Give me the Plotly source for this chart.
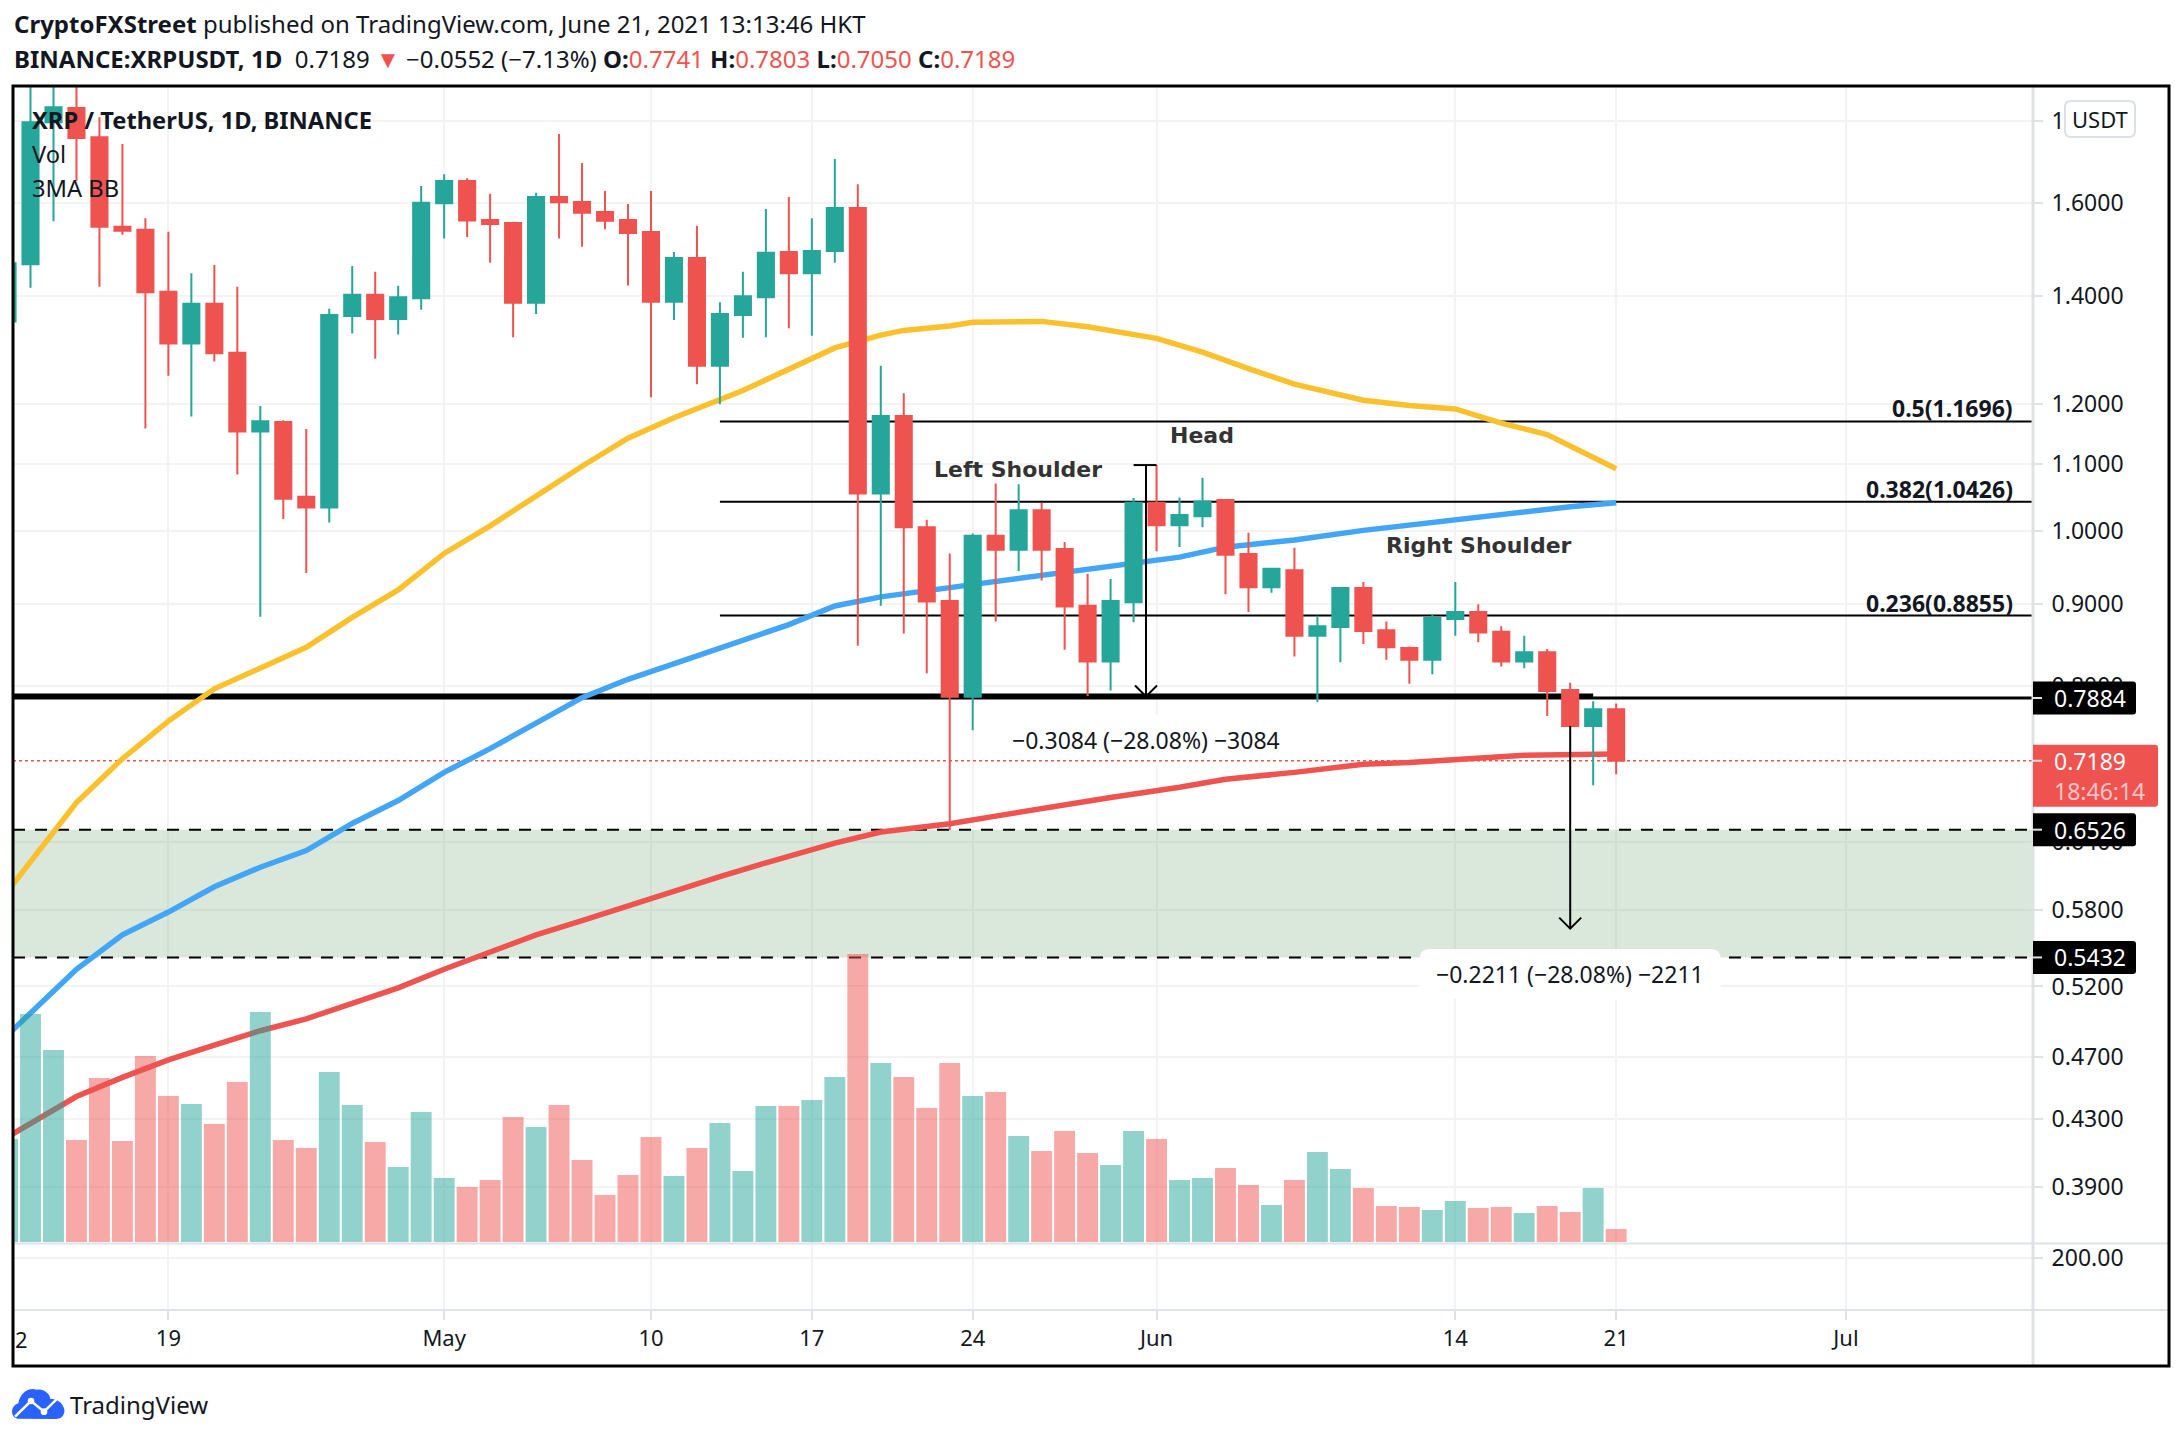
"""
plot.py - XRP/USDT daily chart with head & shoulders drawing.
Output: out.html
"""
import math

import pandas as pd
import plotly.graph_objects as go

FONT = "Noto Sans"
RED = "#ef5350"
TEAL = "#26a69a"
INK = "#131722"
GRID = "#f3f3f3"
EDGE = "#e0e3e5"

# page layout, in pixels
W, H = 2182, 1440
LEFT, RIGHT, TOP, AXIS_Y, PANE_Y, BOTTOM, FRAME_R = 13, 2033, 86, 1310, 1243.5, 1366, 2169

dates = pd.date_range("2021-04-12", "2021-06-21")
opens = [1.350, 1.466, 1.797, 1.834, 1.759, 1.547, 1.540, 1.409, 1.308, 1.385, 1.291, 1.153, 1.169, 1.050, 1.034,
         1.361, 1.403, 1.355, 1.396,
         1.600, 1.652, 1.562, 1.555, 1.387, 1.614, 1.603, 1.580, 1.562, 1.535, 1.389, 1.479, 1.267, 1.363, 1.398,
         1.492, 1.447, 1.494, 1.589, 1.055, 1.179, 1.005, 0.904, 0.788, 0.993, 0.973, 1.030, 0.974, 0.898, 0.829, 0.9026,
         1.041, 1.008, 1.021, 1.045, 0.967, 0.922, 0.945, 0.860, 0.871, 0.921, 0.867, 0.845, 0.831, 0.881, 0.890,
         0.865, 0.829, 0.840, 0.7957, 0.7556, 0.7741]
highs = [1.490, 1.960, 1.960, 1.960, 1.810, 1.742, 1.566, 1.536, 1.447, 1.464, 1.419, 1.196, 1.172, 1.157, 1.375,
         1.462, 1.450, 1.421, 1.640,
         1.668, 1.658, 1.622, 1.558, 1.624, 1.767, 1.695, 1.628, 1.598, 1.628, 1.492, 1.549, 1.388, 1.450, 1.587,
         1.614, 1.566, 1.705, 1.644, 1.267, 1.218, 1.016, 0.968, 0.996, 1.070, 1.069, 1.041, 0.984, 0.940, 0.933, 1.048,
         1.0988, 1.049, 1.079, 1.046, 0.997, 0.948, 0.976, 0.885, 0.922, 0.929, 0.878, 0.847, 0.887, 0.929, 0.900,
         0.872, 0.860, 0.844, 0.804, 0.783, 0.7803]
lows = [1.330, 1.417, 1.559, 1.652, 1.419, 1.529, 1.158, 1.249, 1.178, 1.275, 1.084, 0.884, 1.017, 0.941, 1.012,
        1.327, 1.280, 1.325, 1.373,
        1.521, 1.524, 1.469, 1.320, 1.365, 1.521, 1.503, 1.541, 1.422, 1.211, 1.353, 1.234, 1.199, 1.319, 1.320,
        1.337, 1.323, 1.469, 0.848, 0.898, 0.863, 0.815, 0.651, 0.751, 0.878, 0.944, 0.931, 0.843, 0.789, 0.795, 0.877,
        0.971, 0.977, 1.005, 0.913, 0.890, 0.915, 0.835, 0.782, 0.828, 0.850, 0.831, 0.803, 0.814, 0.860, 0.852,
        0.823, 0.821, 0.7665, 0.7556, 0.694, 0.7050]
closes = [1.468, 1.797, 1.836, 1.757, 1.547, 1.538, 1.408, 1.308, 1.385, 1.290, 1.153, 1.170, 1.047, 1.034, 1.363,
          1.403, 1.355, 1.398, 1.601,
          1.652, 1.561, 1.553, 1.387, 1.614, 1.602, 1.578, 1.560, 1.533, 1.389, 1.479, 1.267, 1.365, 1.400, 1.490,
          1.447, 1.494, 1.589, 1.055, 1.179, 1.005, 0.9036, 0.788, 0.993, 0.973, 1.030, 0.973, 0.897, 0.829, 0.904, 1.041,
          1.008, 1.023, 1.043, 0.966, 0.922, 0.947, 0.860, 0.872, 0.921, 0.866, 0.846, 0.831, 0.8825, 0.890, 0.864,
          0.829, 0.840, 0.7945, 0.7556, 0.7741, 0.7189]
# read as relative bar heights, the volume scale itself is not labelled
volume = [103, 228, 192, 102, 164, 101, 186, 146, 138, 118, 160, 230, 102, 94, 170, 137, 100, 75, 130,
          64, 55, 62, 125, 115, 137, 82, 47, 67, 105, 66, 94, 119, 71, 136, 136, 142, 165, 288, 179, 165,
          134, 179, 146, 150, 106, 91, 111, 89, 77, 111, 103,
          62, 64, 74, 57, 37, 62, 90, 73, 54, 36, 35, 32, 41, 34, 35, 29, 36, 30, 54, 13]

slow_dates = ["04-12", "04-15", "04-17", "04-19", "04-21", "04-23", "04-25", "04-27", "04-29", "05-01", "05-03",
              "05-05", "05-07", "05-09", "05-11", "05-14", "05-16", "05-18", "05-20", "05-21", "05-23", "05-24",
              "05-27", "05-29", "06-01", "06-03", "06-05", "06-07", "06-10", "06-12", "06-14", "06-16", "06-18", "06-21"]
ma_yellow = [0.596, 0.677, 0.721, 0.761, 0.797, 0.821, 0.846, 0.883, 0.9185, 0.968, 1.007,
             1.051, 1.097, 1.142, 1.176, 1.223, 1.26, 1.30, 1.324, 1.333, 1.3415, 1.3486,
             1.3504, 1.34, 1.318, 1.292, 1.262, 1.234, 1.206, 1.197, 1.191, 1.167, 1.148, 1.093]
blue_dates = ["04-12", "04-15", "04-17", "04-19", "04-21", "04-23", "04-25", "04-27", "04-29", "05-01", "05-03",
              "05-05", "05-07", "05-09", "05-11", "05-13", "05-16", "05-18", "05-20", "05-23", "05-26", "05-28",
              "05-30", "06-02", "06-04", "06-07", "06-10", "06-12", "06-15", "06-17", "06-19", "06-21"]
ma_blue = [0.485, 0.533, 0.56, 0.5786, 0.600, 0.617, 0.632, 0.657, 0.679, 0.707, 0.7315,
           0.758, 0.787, 0.808, 0.8266, 0.846, 0.874, 0.8976, 0.9095, 0.9216, 0.9338, 0.941,
           0.9505, 0.9628, 0.9767, 0.9868, 1.0005, 1.008, 1.021, 1.029, 1.035, 1.041]
red_dates = ["04-12", "04-15", "04-17", "04-19", "04-21", "04-23", "04-25", "04-27", "04-29", "05-01", "05-03",
             "05-05", "05-07", "05-09", "05-11", "05-13", "05-15", "05-17", "05-18", "05-20", "05-23", "05-25",
             "05-28", "05-30", "06-02", "06-04", "06-07", "06-10", "06-12", "06-15", "06-17", "06-21"]
ma_red = [0.419, 0.444, 0.4564, 0.468, 0.478, 0.488, 0.4964, 0.5076, 0.519, 0.533, 0.5466,
          0.56, 0.5715, 0.584, 0.5967, 0.6088, 0.621, 0.6336, 0.6387, 0.649, 0.6567, 0.664,
          0.675, 0.682, 0.692, 0.700, 0.707, 0.7153, 0.717, 0.7216, 0.7246, 0.726]

x_tick_dates = ["2021-04-19", "2021-05-01", "2021-05-10", "2021-05-17", "2021-05-24", "2021-06-01", "2021-06-14",
                "2021-06-21", "2021-07-01"]
x_tick_labels = ["19", "May", "10", "17", "24", "Jun", "14", "21", "Jul"]
price_ticks = [1.8, 1.6, 1.4, 1.2, 1.1, 1.0, 0.9, 0.8, 0.64, 0.58, 0.52, 0.47, 0.43, 0.39]

fib_levels = [("0.5(1.1696)", 1.1696), ("0.382(1.0426)", 1.0426), ("0.236(0.8855)", 0.8855)]
# the drawn levels sit a hair under their labelled prices in the picture
NECKLINE, ZONE_TOP, ZONE_BOTTOM, LAST_PRICE = 0.7866, 0.6512, 0.5421, 0.7189

X_START, X_END = "2021-04-12 05:43", "2021-07-09 03:20"
P_MIN, P_MAX = 0.3596, 1.893
LOG_RANGE = [math.log10(P_MIN), math.log10(P_MAX)]


def px(x):
    return (x - LEFT) / (RIGHT - LEFT)


def py(y):
    return (AXIS_Y - y) / (AXIS_Y - TOP)


def price_y(price):
    share = (LOG_RANGE[1] - math.log10(price)) / (LOG_RANGE[1] - LOG_RANGE[0])
    return TOP + share * (PANE_Y - TOP)


def label(x, y, text, size=22, color=INK, anchor="left", family=FONT):
    return dict(xref="paper", yref="paper", x=px(x), y=py(y), text=text, showarrow=False, xanchor=anchor,
                yanchor="middle", align=anchor, font=dict(family=family, size=size, color=color))


def rounded(x0, y0, x1, y1, r, fill, line="rgba(0,0,0,0)", width=0, left_r=None):
    lr = r if left_r is None else left_r
    path = (f"M {px(x0 + lr)} {py(y0)} L {px(x1 - r)} {py(y0)} Q {px(x1)} {py(y0)} {px(x1)} {py(y0 + r)} "
            f"L {px(x1)} {py(y1 - r)} Q {px(x1)} {py(y1)} {px(x1 - r)} {py(y1)} "
            f"L {px(x0 + lr)} {py(y1)} Q {px(x0)} {py(y1)} {px(x0)} {py(y1 - lr)} "
            f"L {px(x0)} {py(y0 + lr)} Q {px(x0)} {py(y0)} {px(x0 + lr)} {py(y0)} Z")
    return dict(type="path", xref="paper", yref="paper", path=path, fillcolor=fill,
                line=dict(color=line, width=width), layer="above")


def hline(price, width=2, dash="solid", color="black", x0=X_START, x1=X_END):
    return dict(type="line", xref="x", yref="y", x0=x0, x1=x1, y0=price, y1=price, layer="between",
                line=dict(color=color, width=width, dash=dash))


def seam(x0, y0, x1, y1, width=2):
    return dict(type="line", xref="paper", yref="paper", x0=px(x0), x1=px(x1), y0=py(y0), y1=py(y1),
                line=dict(color=EDGE, width=width), layer="above")


def label_box(x, price, half_w=150.5, half_h=25, r=10):
    # white plate behind a measure label, anchored on the axes and sized in pixels
    path = (f"M {-half_w + r} {half_h} L {half_w - r} {half_h} Q {half_w} {half_h} {half_w} {half_h - r} "
            f"L {half_w} {-half_h + r} Q {half_w} {-half_h} {half_w - r} {-half_h} "
            f"L {-half_w + r} {-half_h} Q {-half_w} {-half_h} {-half_w} {-half_h + r} "
            f"L {-half_w} {half_h - r} Q {-half_w} {half_h} {-half_w + r} {half_h} Z")
    return dict(type="path", xref="x", yref="y", xsizemode="pixel", ysizemode="pixel", xanchor=x, yanchor=price,
                path=path, fillcolor="white", line=dict(width=0), layer="between")


def price_tag(price, text, above=16.5, below=16.5, right=2136, fill="black"):
    y = price_y(price)
    tag = rounded(RIGHT, y - above, right, y + below, 3, fill, left_r=0.01)
    tick = seam(RIGHT, y, RIGHT + 9, y)
    note = label(2052, y, text, size=23, color="white")
    return [tag, tick], note


def arrow_head(x, price):
    return dict(type="path", xref="x", yref="y", xsizemode="pixel", ysizemode="pixel", xanchor=x, yanchor=price,
                path="M -11 11 L 0 0 L 11 11", line=dict(color="black", width=2), layer="above")


def logo():
    def p(x, y):
        return f"{px(5 + x / 3)} {py(1375 + y / 3)}"

    cloud = (f"M {p(40, 131)} C {p(18, 131)} {p(12, 95)} {p(40, 85)} C {p(45, 55)} {p(70, 36)} {p(95, 44)} "
             f"C {p(115, 40)} {p(135, 55)} {p(136, 72)} C {p(165, 70)} {p(186, 100)} {p(176, 118)} "
             f"C {p(170, 131)} {p(160, 132)} {p(150, 132)} Z")
    zigzag = f"M {p(30, 125)} L {p(78, 78)} L {p(117, 110)} L {p(160, 68)}"
    shapes = [dict(type="path", xref="paper", yref="paper", path=cloud, fillcolor="#2962ff", line=dict(width=0)),
              dict(type="path", xref="paper", yref="paper", path=zigzag, line=dict(color="white", width=2.5))]
    for cx, cy in [(78, 78), (117, 110)]:
        shapes.append(dict(type="circle", xref="paper", yref="paper", x0=px(5 + (cx - 10) / 3), x1=px(5 + (cx + 10) / 3),
                           y0=py(1375 + (cy - 10) / 3), y1=py(1375 + (cy + 10) / 3), fillcolor="white",
                           line=dict(width=0)))
    return shapes


def ma_line(days, values, color):
    return go.Scatter(x=[f"2021-{d}" for d in days], y=values, mode="lines", xaxis="x", yaxis="y",
                      line=dict(color=color, width=5.5), hoverinfo="skip", showlegend=False)


fig = go.Figure()
fig.add_trace(ma_line(slow_dates, ma_yellow, "#fbc02d"))
fig.add_trace(ma_line(blue_dates, ma_blue, "#42a5f5"))
fig.add_trace(ma_line(red_dates, ma_red, RED))
fig.add_trace(go.Bar(
    x=dates, y=volume, xaxis="x", yaxis="y2", showlegend=False, hoverinfo="skip",
    marker=dict(color=["rgba(38,166,154,0.5)" if c >= o else "rgba(239,83,80,0.5)" for o, c in zip(opens, closes)],
                line=dict(width=0)),
))
fig.add_trace(go.Candlestick(
    x=dates, open=opens, high=highs, low=lows, close=closes, xaxis="x", yaxis="y3", showlegend=False,
    whiskerwidth=0,
    increasing=dict(line=dict(color=TEAL, width=2), fillcolor=TEAL),
    decreasing=dict(line=dict(color=RED, width=2), fillcolor=RED),
))
# lower pane has no visible series, only its 200.00 scale
fig.add_trace(go.Scatter(x=[dates[0]], y=[200], mode="lines", xaxis="x", yaxis="y4", hoverinfo="skip", showlegend=False))

main_domain = [(AXIS_Y - PANE_Y) / (AXIS_Y - TOP), 1]

fig.update_layout(
    width=W, height=H,
    margin=dict(l=LEFT, r=W - RIGHT, t=TOP, b=H - AXIS_Y),
    paper_bgcolor="white", plot_bgcolor="white",
    font=dict(family=FONT, color=INK, size=22),
    bargap=0.09, boxgap=0.30, boxgroupgap=0,
    xaxis=dict(type="date", range=[X_START, X_END], anchor="y4", tickmode="array", tickvals=x_tick_dates,
               ticktext=x_tick_labels, ticks="outside", ticklen=9, tickwidth=2, tickcolor=EDGE, gridcolor=GRID,
               gridwidth=2, showgrid=True, zeroline=False, showline=False, rangeslider=dict(visible=False),
               tickfont=dict(family=FONT, size=22, color=INK)),
    yaxis=dict(type="log", range=LOG_RANGE, domain=main_domain, side="right", anchor="x", tickmode="array",
               tickvals=price_ticks, ticktext=[f"{t:.4f}" for t in price_ticks], ticks="outside", ticklen=9,
               tickwidth=2, tickcolor=EDGE, gridcolor=GRID, gridwidth=2, zeroline=False, showline=False,
               ticklabelstandoff=4, tickfont=dict(family=FONT, size=23, color=INK)),
    yaxis2=dict(range=[-1.5, 1156], overlaying="y", visible=False),
    yaxis3=dict(type="log", range=LOG_RANGE, overlaying="y", visible=False),
    yaxis4=dict(range=[0, 255.7], domain=[0, main_domain[0]], side="right", anchor="x", tickmode="array",
                tickvals=[200], ticktext=["200.00"], ticks="outside", ticklen=9, tickwidth=2, tickcolor=EDGE,
                gridcolor=GRID, gridwidth=2, zeroline=False, showline=False,
                ticklabelstandoff=4, tickfont=dict(family=FONT, size=23, color=INK)),
)

tags = [price_tag(NECKLINE, "0.7884"), price_tag(ZONE_TOP, "0.6526"), price_tag(ZONE_BOTTOM, "0.5432")]
red_tag, red_note = price_tag(LAST_PRICE, "0.7189", above=16, below=46, right=2158, fill=RED)

shapes = [
    dict(type="rect", xref="x", yref="y", x0=X_START, x1=X_END, y0=ZONE_BOTTOM, y1=ZONE_TOP, layer="between",
         fillcolor="rgba(103,163,111,0.25)", line=dict(width=0)),
    hline(ZONE_TOP, dash="12px,10px"),
    hline(ZONE_BOTTOM, dash="12px,10px"),
    label_box("2021-05-31 12:29", 0.7406),
    label_box("2021-06-19", 0.5294),
    hline(LAST_PRICE, width=1.5, dash="dot", color=RED),
    hline(NECKLINE, width=3),
    hline(0.7895, width=4, x0=X_START, x1="2021-06-20 00:00"),
]
for _, level in fib_levels:
    shapes.append(hline(level, x0="2021-05-13"))

# measure arrows
arrow_1, arrow_2 = "2021-05-31 13:00", "2021-06-19"
shapes += [
    dict(type="line", xref="x", yref="y", x0=arrow_1, x1=arrow_1, y0=1.0988, y1=0.7884, line=dict(color="black", width=2)),
    dict(type="line", xref="x", yref="y", x0="2021-05-31", x1="2021-06-01", y0=1.0988, y1=1.0988,
         line=dict(color="black", width=2)),
    arrow_head(arrow_1, 0.7884),
    dict(type="line", xref="x", yref="y", x0=arrow_2, x1=arrow_2, y0=0.7556, y1=0.565, line=dict(color="black", width=2)),
    arrow_head(arrow_2, 0.565),
]

# frame and pane seams
shapes += [
    seam(LEFT, PANE_Y, FRAME_R, PANE_Y), seam(LEFT, AXIS_Y, FRAME_R, AXIS_Y), seam(RIGHT, TOP, RIGHT, BOTTOM, width=3),
    dict(type="rect", xref="paper", yref="paper", x0=px(LEFT), x1=px(FRAME_R), y0=py(TOP), y1=py(BOTTOM),
         line=dict(color="black", width=3), layer="above"),
]
for tag_shapes, _ in tags:
    shapes += tag_shapes
shapes += red_tag
shapes.append(rounded(2065, 101, 2135, 137, 6, "white", line="#dde1e6", width=2))
shapes += logo()

annotations = [
    label(12, 24, "<b>CryptoFXStreet</b> published on TradingView.com, June 21, 2021 13:13:46 HKT", size=24),
    label(12, 58.5, f'<b>BINANCE:XRPUSDT, 1D</b>  0.7189 <span style="color:{RED}">▼</span> −0.0552 (−7.13%) '
                    f'<b>O:</b><span style="color:{RED}">0.7741</span> <b>H:</b><span style="color:{RED}">0.7803</span> '
                    f'<b>L:</b><span style="color:{RED}">0.7050</span> <b>C:</b><span style="color:{RED}">0.7189</span>',
          size=24),
    label(30, 120, "<b>XRP / TetherUS, 1D, BINANCE</b>", size=23.7),
    label(30, 154, "Vol", size=23.7),
    label(30, 188, "3MA BB", size=23.7),
    label(1018, 469, "<b>Left Shoulder</b>", color="#333333", anchor="center", family="DejaVu Sans"),
    label(1202, 435, "<b>Head</b>", color="#333333", anchor="center", family="DejaVu Sans"),
    label(1479, 545, "<b>Right Shoulder</b>", color="#333333", anchor="center", family="DejaVu Sans"),
    label(1145.5, 740, "−0.3084 (−28.08%) −3084", size=23, anchor="center"),
    label(1570, 974, "−0.2211 (−28.08%) −2211", size=23, anchor="center"),
    label(2015, 408, "<b>0.5(1.1696)</b>", size=23, anchor="right"),
    label(2015, 488.6, "<b>0.382(1.0426)</b>", size=23, anchor="right"),
    label(2015, 603, "<b>0.236(0.8855)</b>", size=23, anchor="right"),
    label(2100, 119, "USDT", anchor="center"),
    label(2052, 791, "18:46:14", size=23, color="#f9c5c4"),
    label(13, 1339, "2"),
    label(68, 1404.5, "TradingView", size=24),
]
annotations += [t[1] for t in tags] + [red_note]

fig.update_layout(shapes=shapes, annotations=annotations)

fig.write_html("out.html", config={"displayModeBar": False}, post_script="document.body.style.margin='0';")
